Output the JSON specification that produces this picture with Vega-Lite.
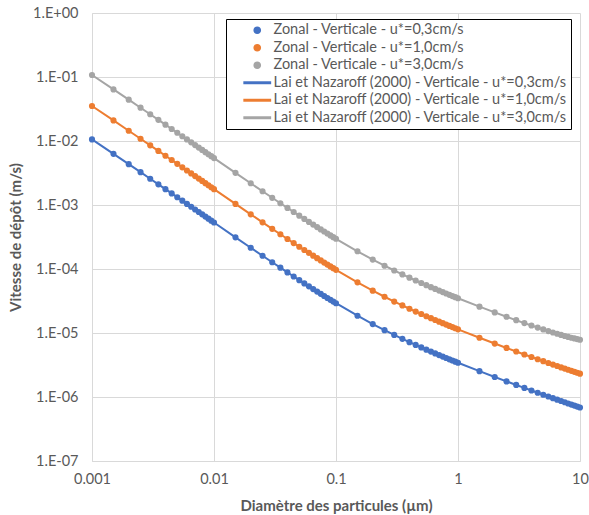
{
"$schema": "https://vega.github.io/schema/vega-lite/v6.json",
"width": 488, "height": 448,
"autosize": {"type": "none"},
"padding": {"left": 92, "top": 13, "right": 9, "bottom": 54},
"background": "white",
"config": {"view": {"stroke": null}, "font": "Lato"},
"data": {"values": [
{"d":0.001,"v":1.059e-2,"z":"Z1","l":"L1"},{"d":0.0015,"v":6.302e-3,"z":"Z1","l":"L1"},{"d":0.002,"v":4.350e-3,"z":"Z1","l":"L1"},{"d":0.0025,"v":3.260e-3,"z":"Z1","l":"L1"},{"d":0.003,"v":2.573e-3,"z":"Z1","l":"L1"},{"d":0.0035,"v":2.106e-3,"z":"Z1","l":"L1"},{"d":0.004,"v":1.770e-3,"z":"Z1","l":"L1"},{"d":0.0045,"v":1.517e-3,"z":"Z1","l":"L1"},{"d":0.005,"v":1.322e-3,"z":"Z1","l":"L1"},{"d":0.0055,"v":1.167e-3,"z":"Z1","l":"L1"},{"d":0.006,"v":1.041e-3,"z":"Z1","l":"L1"},{"d":0.0065,"v":9.376e-4,"z":"Z1","l":"L1"},{"d":0.007,"v":8.506e-4,"z":"Z1","l":"L1"},{"d":0.0075,"v":7.771e-4,"z":"Z1","l":"L1"},{"d":0.008,"v":7.138e-4,"z":"Z1","l":"L1"},{"d":0.0085,"v":6.591e-4,"z":"Z1","l":"L1"},{"d":0.009,"v":6.113e-4,"z":"Z1","l":"L1"},{"d":0.0095,"v":5.694e-4,"z":"Z1","l":"L1"},{"d":0.01,"v":5.322e-4,"z":"Z1","l":"L1"},
{"d":0.015,"v":3.128e-4,"z":"Z1","l":"L1"},{"d":0.02,"v":2.151e-4,"z":"Z1","l":"L1"},{"d":0.025,"v":1.612e-4,"z":"Z1","l":"L1"},{"d":0.03,"v":1.276e-4,"z":"Z1","l":"L1"},{"d":0.035,"v":1.048e-4,"z":"Z1","l":"L1"},{"d":0.04,"v":8.855e-5,"z":"Z1","l":"L1"},{"d":0.045,"v":7.639e-5,"z":"Z1","l":"L1"},{"d":0.05,"v":6.700e-5,"z":"Z1","l":"L1"},{"d":0.055,"v":5.956e-5,"z":"Z1","l":"L1"},{"d":0.06,"v":5.353e-5,"z":"Z1","l":"L1"},{"d":0.065,"v":4.857e-5,"z":"Z1","l":"L1"},{"d":0.07,"v":4.442e-5,"z":"Z1","l":"L1"},{"d":0.075,"v":4.090e-5,"z":"Z1","l":"L1"},{"d":0.08,"v":3.788e-5,"z":"Z1","l":"L1"},{"d":0.085,"v":3.527e-5,"z":"Z1","l":"L1"},{"d":0.09,"v":3.298e-5,"z":"Z1","l":"L1"},{"d":0.095,"v":3.098e-5,"z":"Z1","l":"L1"},{"d":0.1,"v":2.920e-5,"z":"Z1","l":"L1"},
{"d":0.15,"v":1.861e-5,"z":"Z1","l":"L1"},{"d":0.2,"v":1.380e-5,"z":"Z1","l":"L1"},{"d":0.25,"v":1.107e-5,"z":"Z1","l":"L1"},{"d":0.3,"v":9.323e-6,"z":"Z1","l":"L1"},{"d":0.35,"v":8.103e-6,"z":"Z1","l":"L1"},{"d":0.4,"v":7.201e-6,"z":"Z1","l":"L1"},{"d":0.45,"v":6.505e-6,"z":"Z1","l":"L1"},{"d":0.5,"v":5.951e-6,"z":"Z1","l":"L1"},{"d":0.55,"v":5.497e-6,"z":"Z1","l":"L1"},{"d":0.6,"v":5.119e-6,"z":"Z1","l":"L1"},{"d":0.65,"v":4.798e-6,"z":"Z1","l":"L1"},{"d":0.7,"v":4.522e-6,"z":"Z1","l":"L1"},{"d":0.75,"v":4.282e-6,"z":"Z1","l":"L1"},{"d":0.8,"v":4.070e-6,"z":"Z1","l":"L1"},{"d":0.85,"v":3.882e-6,"z":"Z1","l":"L1"},{"d":0.9,"v":3.714e-6,"z":"Z1","l":"L1"},{"d":0.95,"v":3.563e-6,"z":"Z1","l":"L1"},{"d":1,"v":3.426e-6,"z":"Z1","l":"L1"},
{"d":1.5,"v":2.532e-6,"z":"Z1","l":"L1"},{"d":2,"v":2.055e-6,"z":"Z1","l":"L1"},{"d":2.5,"v":1.754e-6,"z":"Z1","l":"L1"},{"d":3,"v":1.543e-6,"z":"Z1","l":"L1"},{"d":3.5,"v":1.386e-6,"z":"Z1","l":"L1"},{"d":4,"v":1.264e-6,"z":"Z1","l":"L1"},{"d":4.5,"v":1.166e-6,"z":"Z1","l":"L1"},{"d":5,"v":1.085e-6,"z":"Z1","l":"L1"},{"d":5.5,"v":1.017e-6,"z":"Z1","l":"L1"},{"d":6,"v":9.596e-7,"z":"Z1","l":"L1"},{"d":6.5,"v":9.095e-7,"z":"Z1","l":"L1"},{"d":7,"v":8.656e-7,"z":"Z1","l":"L1"},{"d":7.5,"v":8.270e-7,"z":"Z1","l":"L1"},{"d":8,"v":7.926e-7,"z":"Z1","l":"L1"},{"d":8.5,"v":7.618e-7,"z":"Z1","l":"L1"},{"d":9,"v":7.339e-7,"z":"Z1","l":"L1"},{"d":9.5,"v":7.086e-7,"z":"Z1","l":"L1"},{"d":10,"v":6.857e-7,"z":"Z1","l":"L1"},
{"d":0.001,"v":3.523e-2,"z":"Z2","l":"L2"},{"d":0.0015,"v":2.096e-2,"z":"Z2","l":"L2"},{"d":0.002,"v":1.447e-2,"z":"Z2","l":"L2"},{"d":0.0025,"v":1.085e-2,"z":"Z2","l":"L2"},{"d":0.003,"v":8.560e-3,"z":"Z2","l":"L2"},{"d":0.0035,"v":7.006e-3,"z":"Z2","l":"L2"},{"d":0.004,"v":5.887e-3,"z":"Z2","l":"L2"},{"d":0.0045,"v":5.047e-3,"z":"Z2","l":"L2"},{"d":0.005,"v":4.399e-3,"z":"Z2","l":"L2"},{"d":0.0055,"v":3.882e-3,"z":"Z2","l":"L2"},{"d":0.006,"v":3.464e-3,"z":"Z2","l":"L2"},{"d":0.0065,"v":3.119e-3,"z":"Z2","l":"L2"},{"d":0.007,"v":2.830e-3,"z":"Z2","l":"L2"},{"d":0.0075,"v":2.585e-3,"z":"Z2","l":"L2"},{"d":0.008,"v":2.375e-3,"z":"Z2","l":"L2"},{"d":0.0085,"v":2.193e-3,"z":"Z2","l":"L2"},{"d":0.009,"v":2.033e-3,"z":"Z2","l":"L2"},{"d":0.0095,"v":1.894e-3,"z":"Z2","l":"L2"},{"d":0.01,"v":1.770e-3,"z":"Z2","l":"L2"},
{"d":0.015,"v":1.041e-3,"z":"Z2","l":"L2"},{"d":0.02,"v":7.155e-4,"z":"Z2","l":"L2"},{"d":0.025,"v":5.362e-4,"z":"Z2","l":"L2"},{"d":0.03,"v":4.243e-4,"z":"Z2","l":"L2"},{"d":0.035,"v":3.487e-4,"z":"Z2","l":"L2"},{"d":0.04,"v":2.946e-4,"z":"Z2","l":"L2"},{"d":0.045,"v":2.541e-4,"z":"Z2","l":"L2"},{"d":0.05,"v":2.229e-4,"z":"Z2","l":"L2"},{"d":0.055,"v":1.981e-4,"z":"Z2","l":"L2"},{"d":0.06,"v":1.781e-4,"z":"Z2","l":"L2"},{"d":0.065,"v":1.616e-4,"z":"Z2","l":"L2"},{"d":0.07,"v":1.478e-4,"z":"Z2","l":"L2"},{"d":0.075,"v":1.360e-4,"z":"Z2","l":"L2"},{"d":0.08,"v":1.260e-4,"z":"Z2","l":"L2"},{"d":0.085,"v":1.173e-4,"z":"Z2","l":"L2"},{"d":0.09,"v":1.097e-4,"z":"Z2","l":"L2"},{"d":0.095,"v":1.031e-4,"z":"Z2","l":"L2"},{"d":0.1,"v":9.713e-5,"z":"Z2","l":"L2"},
{"d":0.15,"v":6.192e-5,"z":"Z2","l":"L2"},{"d":0.2,"v":4.590e-5,"z":"Z2","l":"L2"},{"d":0.25,"v":3.684e-5,"z":"Z2","l":"L2"},{"d":0.3,"v":3.101e-5,"z":"Z2","l":"L2"},{"d":0.35,"v":2.696e-5,"z":"Z2","l":"L2"},{"d":0.4,"v":2.395e-5,"z":"Z2","l":"L2"},{"d":0.45,"v":2.164e-5,"z":"Z2","l":"L2"},{"d":0.5,"v":1.980e-5,"z":"Z2","l":"L2"},{"d":0.55,"v":1.829e-5,"z":"Z2","l":"L2"},{"d":0.6,"v":1.703e-5,"z":"Z2","l":"L2"},{"d":0.65,"v":1.596e-5,"z":"Z2","l":"L2"},{"d":0.7,"v":1.504e-5,"z":"Z2","l":"L2"},{"d":0.75,"v":1.424e-5,"z":"Z2","l":"L2"},{"d":0.8,"v":1.354e-5,"z":"Z2","l":"L2"},{"d":0.85,"v":1.291e-5,"z":"Z2","l":"L2"},{"d":0.9,"v":1.236e-5,"z":"Z2","l":"L2"},{"d":0.95,"v":1.185e-5,"z":"Z2","l":"L2"},{"d":1,"v":1.140e-5,"z":"Z2","l":"L2"},
{"d":1.5,"v":8.424e-6,"z":"Z2","l":"L2"},{"d":2,"v":6.841e-6,"z":"Z2","l":"L2"},{"d":2.5,"v":5.839e-6,"z":"Z2","l":"L2"},{"d":3,"v":5.140e-6,"z":"Z2","l":"L2"},{"d":3.5,"v":4.620e-6,"z":"Z2","l":"L2"},{"d":4,"v":4.216e-6,"z":"Z2","l":"L2"},{"d":4.5,"v":3.891e-6,"z":"Z2","l":"L2"},{"d":5,"v":3.625e-6,"z":"Z2","l":"L2"},{"d":5.5,"v":3.401e-6,"z":"Z2","l":"L2"},{"d":6,"v":3.211e-6,"z":"Z2","l":"L2"},{"d":6.5,"v":3.046e-6,"z":"Z2","l":"L2"},{"d":7,"v":2.903e-6,"z":"Z2","l":"L2"},{"d":7.5,"v":2.776e-6,"z":"Z2","l":"L2"},{"d":8,"v":2.664e-6,"z":"Z2","l":"L2"},{"d":8.5,"v":2.563e-6,"z":"Z2","l":"L2"},{"d":9,"v":2.474e-6,"z":"Z2","l":"L2"},{"d":9.5,"v":2.392e-6,"z":"Z2","l":"L2"},{"d":10,"v":2.318e-6,"z":"Z2","l":"L2"},
{"d":0.001,"v":1.076e-1,"z":"Z3","l":"L3"},{"d":0.0015,"v":6.404e-2,"z":"Z3","l":"L3"},{"d":0.002,"v":4.421e-2,"z":"Z3","l":"L3"},{"d":0.0025,"v":3.313e-2,"z":"Z3","l":"L3"},{"d":0.003,"v":2.615e-2,"z":"Z3","l":"L3"},{"d":0.0035,"v":2.140e-2,"z":"Z3","l":"L3"},{"d":0.004,"v":1.799e-2,"z":"Z3","l":"L3"},{"d":0.0045,"v":1.542e-2,"z":"Z3","l":"L3"},{"d":0.005,"v":1.344e-2,"z":"Z3","l":"L3"},{"d":0.0055,"v":1.186e-2,"z":"Z3","l":"L3"},{"d":0.006,"v":1.058e-2,"z":"Z3","l":"L3"},{"d":0.0065,"v":9.528e-3,"z":"Z3","l":"L3"},{"d":0.007,"v":8.645e-3,"z":"Z3","l":"L3"},{"d":0.0075,"v":7.897e-3,"z":"Z3","l":"L3"},{"d":0.008,"v":7.254e-3,"z":"Z3","l":"L3"},{"d":0.0085,"v":6.698e-3,"z":"Z3","l":"L3"},{"d":0.009,"v":6.212e-3,"z":"Z3","l":"L3"},{"d":0.0095,"v":5.786e-3,"z":"Z3","l":"L3"},{"d":0.01,"v":5.408e-3,"z":"Z3","l":"L3"},
{"d":0.015,"v":3.179e-3,"z":"Z3","l":"L3"},{"d":0.02,"v":2.186e-3,"z":"Z3","l":"L3"},{"d":0.025,"v":1.638e-3,"z":"Z3","l":"L3"},{"d":0.03,"v":1.296e-3,"z":"Z3","l":"L3"},{"d":0.035,"v":1.065e-3,"z":"Z3","l":"L3"},{"d":0.04,"v":8.999e-4,"z":"Z3","l":"L3"},{"d":0.045,"v":7.763e-4,"z":"Z3","l":"L3"},{"d":0.05,"v":6.808e-4,"z":"Z3","l":"L3"},{"d":0.055,"v":6.053e-4,"z":"Z3","l":"L3"},{"d":0.06,"v":5.440e-4,"z":"Z3","l":"L3"},{"d":0.065,"v":4.936e-4,"z":"Z3","l":"L3"},{"d":0.07,"v":4.514e-4,"z":"Z3","l":"L3"},{"d":0.075,"v":4.156e-4,"z":"Z3","l":"L3"},{"d":0.08,"v":3.849e-4,"z":"Z3","l":"L3"},{"d":0.085,"v":3.584e-4,"z":"Z3","l":"L3"},{"d":0.09,"v":3.352e-4,"z":"Z3","l":"L3"},{"d":0.095,"v":3.148e-4,"z":"Z3","l":"L3"},{"d":0.1,"v":2.967e-4,"z":"Z3","l":"L3"},
{"d":0.15,"v":1.891e-4,"z":"Z3","l":"L3"},{"d":0.2,"v":1.402e-4,"z":"Z3","l":"L3"},{"d":0.25,"v":1.125e-4,"z":"Z3","l":"L3"},{"d":0.3,"v":9.475e-5,"z":"Z3","l":"L3"},{"d":0.35,"v":8.235e-5,"z":"Z3","l":"L3"},{"d":0.4,"v":7.318e-5,"z":"Z3","l":"L3"},{"d":0.45,"v":6.611e-5,"z":"Z3","l":"L3"},{"d":0.5,"v":6.048e-5,"z":"Z3","l":"L3"},{"d":0.55,"v":5.587e-5,"z":"Z3","l":"L3"},{"d":0.6,"v":5.205e-5,"z":"Z3","l":"L3"},{"d":0.65,"v":4.880e-5,"z":"Z3","l":"L3"},{"d":0.7,"v":4.599e-5,"z":"Z3","l":"L3"},{"d":0.75,"v":4.354e-5,"z":"Z3","l":"L3"},{"d":0.8,"v":4.140e-5,"z":"Z3","l":"L3"},{"d":0.85,"v":3.949e-5,"z":"Z3","l":"L3"},{"d":0.9,"v":3.779e-5,"z":"Z3","l":"L3"},{"d":0.95,"v":3.625e-5,"z":"Z3","l":"L3"},{"d":1,"v":3.486e-5,"z":"Z3","l":"L3"},
{"d":1.5,"v":2.580e-5,"z":"Z3","l":"L3"},{"d":2,"v":2.099e-5,"z":"Z3","l":"L3"},{"d":2.5,"v":1.796e-5,"z":"Z3","l":"L3"},{"d":3,"v":1.585e-5,"z":"Z3","l":"L3"},{"d":3.5,"v":1.429e-5,"z":"Z3","l":"L3"},{"d":4,"v":1.309e-5,"z":"Z3","l":"L3"},{"d":4.5,"v":1.214e-5,"z":"Z3","l":"L3"},{"d":5,"v":1.136e-5,"z":"Z3","l":"L3"},{"d":5.5,"v":1.072e-5,"z":"Z3","l":"L3"},{"d":6,"v":1.018e-5,"z":"Z3","l":"L3"},{"d":6.5,"v":9.722e-6,"z":"Z3","l":"L3"},{"d":7,"v":9.329e-6,"z":"Z3","l":"L3"},{"d":7.5,"v":8.990e-6,"z":"Z3","l":"L3"},{"d":8,"v":8.696e-6,"z":"Z3","l":"L3"},{"d":8.5,"v":8.441e-6,"z":"Z3","l":"L3"},{"d":9,"v":8.218e-6,"z":"Z3","l":"L3"},{"d":9.5,"v":8.024e-6,"z":"Z3","l":"L3"},{"d":10,"v":7.855e-6,"z":"Z3","l":"L3"}
]},
"encoding": {
  "x": {"field": "d", "type": "quantitative",
    "scale": {"type": "log", "domain": [0.001, 10], "nice": false},
    "axis": {"values": [0.001, 0.01, 0.1, 1, 10], "format": "~g", "title": "Diamètre des particules (µm)",
      "grid": true, "gridColor": "#D9D9D9", "domainColor": "#D9D9D9", "ticks": false,
      "labelFont": "Lato", "labelFontSize": 14.5, "labelColor": "#595959", "labelPadding": 11, "labelFlush": false,
      "titleFont": "Lato", "titleFontSize": 15, "titleFontWeight": "bold", "titleColor": "#595959", "titlePadding": 13}},
  "y": {"field": "v", "type": "quantitative",
    "scale": {"type": "log", "domain": [1e-7, 1], "nice": false},
    "axis": {"values": [1e-7, 1e-6, 1e-5, 1e-4, 1e-3, 1e-2, 1e-1, 1],
      "labelExpr": "datum.value >= 0.5 ? '1.E+00' : '1.E-0' + round(-log(datum.value)/LN10)",
      "title": "Vitesse de dépôt (m/s)",
      "grid": true, "gridColor": "#D9D9D9", "domainColor": "#D9D9D9", "ticks": false,
      "labelFont": "Lato", "labelFontSize": 14.5, "labelColor": "#595959", "labelPadding": 14, "labelFlush": false,
      "titleFont": "Lato", "titleFontSize": 15, "titleFontWeight": "bold", "titleColor": "#595959", "titlePadding": 9}}
},
"layer": [
  {"mark": {"type": "point", "filled": true, "opacity": 1, "clip": false},
   "encoding": {
     "color": {"field": "z", "type": "nominal",
       "scale": {"domain": ["Z1", "Z2", "Z3", "L1", "L2", "L3"], "range": ["#4472C4", "#ED7D31", "#A5A5A5", "#4472C4", "#ED7D31", "#A5A5A5"]},
       "legend": {"orient": "none", "legendX": 134, "legendY": 6, "title": null,
         "strokeColor": "#000000", "fillColor": "white", "padding": 4,
         "labelFont": "Lato", "labelFontSize": 14.5, "labelColor": "#595959", "labelLimit": 400,
         "symbolSize": 40, "symbolOffset": 20, "labelOffset": 9, "rowPadding": 2.5,
         "labelExpr": "datum.value == 'Z1' ? 'Zonal - Verticale - u*=0,3cm/s' : datum.value == 'Z2' ? 'Zonal - Verticale - u*=1,0cm/s' : datum.value == 'Z3' ? 'Zonal - Verticale - u*=3,0cm/s' : datum.value == 'L1' ? 'Lai et Nazaroff (2000) - Verticale - u*=0,3cm/s' : datum.value == 'L2' ? 'Lai et Nazaroff (2000) - Verticale - u*=1,0cm/s' : 'Lai et Nazaroff (2000) - Verticale - u*=3,0cm/s'"}},
     "shape": {"field": "z", "type": "nominal",
       "scale": {"domain": ["Z1", "Z2", "Z3", "L1", "L2", "L3"], "range": ["circle", "circle", "circle", "M-4.27,-0.24H4.27V0.24H-4.27Z", "M-4.27,-0.24H4.27V0.24H-4.27Z", "M-4.27,-0.24H4.27V0.24H-4.27Z"]}},
     "size": {"field": "z", "type": "nominal",
       "scale": {"domain": ["Z1", "Z2", "Z3", "L1", "L2", "L3"], "range": [38, 38, 38, 40, 40, 40]}}
   }},
  {"mark": {"type": "line", "strokeWidth": 2, "clip": false},
   "encoding": {"color": {"field": "l", "type": "nominal"}}}
]
}
